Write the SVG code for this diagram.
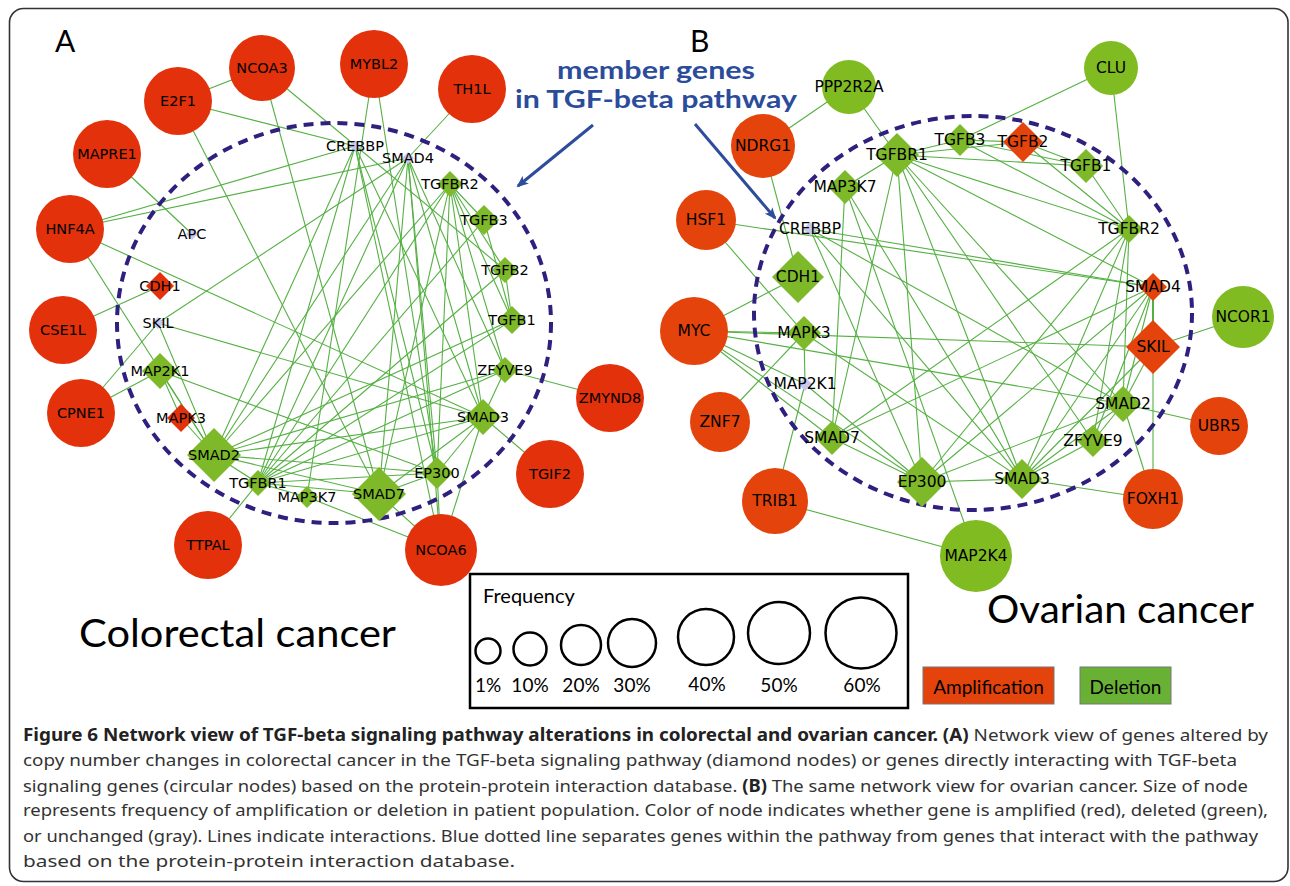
<svg xmlns="http://www.w3.org/2000/svg" width="1290" height="886" viewBox="0 0 1290 886">
<defs>
<style>
.e{stroke:#55b043;stroke-width:1.1;fill:none}
.ra{fill:#e3310b}
.rb{fill:#e4430b}
.g{fill:#7db928}
.gc{fill:#80bb22}
.gy{fill:#c9c9ee}
.l{font-family:"DejaVu Sans",Verdana,sans-serif;font-size:14.5px;text-anchor:middle;dominant-baseline:central;fill:#000}
.lb{font-family:"DejaVu Sans",Verdana,sans-serif;font-size:15.5px;text-anchor:middle;dominant-baseline:central;fill:#000}
.dash{fill:none;stroke:#2f1f7f;stroke-width:4;stroke-dasharray:10 7}
.gs{font-family:Lato,"Open Sans",sans-serif;fill:#000}
.cap{font-family:"Noto Sans","Open Sans",sans-serif;font-size:17px;fill:#333}
.bd{font-weight:bold;fill:#222}
.lc{fill:none;stroke:#000;stroke-width:2.5}
.blue{stroke:#2d4c9c;stroke-width:3;fill:none}
</style>
<marker id="ah" markerWidth="12" markerHeight="10" refX="10" refY="5" orient="auto" markerUnits="userSpaceOnUse">
<path d="M0,0 L12,5 L0,10 L3,5 Z" fill="#2d4c9c"/>
</marker>
</defs>
<rect x="0" y="0" width="1290" height="886" fill="#fff"/>
<rect x="9.5" y="8.5" width="1278.5" height="873" rx="14" fill="none" stroke="#333" stroke-width="1.6"/>

<g id="connectors">
<!-- Panel A -->
<line class="e" x1="178" y1="101" x2="262" y2="68"/>
<line class="e" x1="178" y1="101" x2="355" y2="146"/>
<line class="e" x1="178" y1="101" x2="379" y2="494"/>
<line class="e" x1="262" y1="68" x2="379" y2="494"/>
<line class="e" x1="262" y1="68" x2="505" y2="270"/>
<line class="e" x1="374" y1="64" x2="307" y2="497"/>
<line class="e" x1="374" y1="64" x2="437" y2="473"/>
<line class="e" x1="472" y1="89" x2="408" y2="158"/>
<line class="e" x1="107" y1="154" x2="192" y2="234"/>
<line class="e" x1="70" y1="229" x2="355" y2="146"/>
<line class="e" x1="70" y1="229" x2="408" y2="158"/>
<line class="e" x1="70" y1="229" x2="483" y2="417"/>
<line class="e" x1="70" y1="229" x2="214" y2="455"/>
<line class="e" x1="63" y1="330" x2="160" y2="286"/>
<line class="e" x1="81" y1="413" x2="158" y2="323"/>
<line class="e" x1="81" y1="413" x2="160" y2="371"/>
<line class="e" x1="208" y1="545" x2="258" y2="483"/>
<line class="e" x1="441" y1="550" x2="437" y2="473"/>
<line class="e" x1="441" y1="550" x2="483" y2="417"/>
<line class="e" x1="441" y1="550" x2="379" y2="494"/>
<line class="e" x1="441" y1="550" x2="307" y2="497"/>
<line class="e" x1="441" y1="550" x2="355" y2="146"/>
<line class="e" x1="441" y1="550" x2="408" y2="158"/>
<line class="e" x1="550" y1="474" x2="483" y2="417"/>
<line class="e" x1="610" y1="398" x2="505" y2="370"/>
<line class="e" x1="450" y1="184" x2="484" y2="220"/>
<line class="e" x1="450" y1="184" x2="505" y2="270"/>
<line class="e" x1="450" y1="184" x2="512" y2="320"/>
<line class="e" x1="484" y1="220" x2="512" y2="320"/>
<line class="e" x1="505" y1="270" x2="512" y2="320"/>
<line class="e" x1="450" y1="184" x2="214" y2="455"/>
<line class="e" x1="450" y1="184" x2="483" y2="417"/>
<line class="e" x1="450" y1="184" x2="379" y2="494"/>
<line class="e" x1="450" y1="184" x2="505" y2="370"/>
<line class="e" x1="450" y1="184" x2="258" y2="483"/>
<line class="e" x1="450" y1="184" x2="437" y2="473"/>
<line class="e" x1="258" y1="483" x2="484" y2="220"/>
<line class="e" x1="258" y1="483" x2="505" y2="270"/>
<line class="e" x1="258" y1="483" x2="512" y2="320"/>
<line class="e" x1="258" y1="483" x2="505" y2="370"/>
<line class="e" x1="258" y1="483" x2="483" y2="417"/>
<line class="e" x1="258" y1="483" x2="214" y2="455"/>
<line class="e" x1="258" y1="483" x2="379" y2="494"/>
<line class="e" x1="258" y1="483" x2="307" y2="497"/>
<line class="e" x1="258" y1="483" x2="408" y2="158"/>
<line class="e" x1="258" y1="483" x2="437" y2="473"/>
<line class="e" x1="258" y1="483" x2="355" y2="146"/>
<line class="e" x1="408" y1="158" x2="214" y2="455"/>
<line class="e" x1="408" y1="158" x2="483" y2="417"/>
<line class="e" x1="408" y1="158" x2="379" y2="494"/>
<line class="e" x1="408" y1="158" x2="437" y2="473"/>
<line class="e" x1="408" y1="158" x2="158" y2="323"/>
<line class="e" x1="408" y1="158" x2="505" y2="370"/>
<line class="e" x1="355" y1="146" x2="214" y2="455"/>
<line class="e" x1="355" y1="146" x2="483" y2="417"/>
<line class="e" x1="355" y1="146" x2="437" y2="473"/>
<line class="e" x1="214" y1="455" x2="483" y2="417"/>
<line class="e" x1="214" y1="455" x2="437" y2="473"/>
<line class="e" x1="214" y1="455" x2="505" y2="370"/>
<line class="e" x1="214" y1="455" x2="158" y2="323"/>
<line class="e" x1="214" y1="455" x2="181" y2="418"/>
<line class="e" x1="214" y1="455" x2="160" y2="371"/>
<line class="e" x1="214" y1="455" x2="379" y2="494"/>
<line class="e" x1="214" y1="455" x2="512" y2="320"/>
<line class="e" x1="483" y1="417" x2="437" y2="473"/>
<line class="e" x1="483" y1="417" x2="505" y2="370"/>
<line class="e" x1="483" y1="417" x2="158" y2="323"/>
<line class="e" x1="483" y1="417" x2="379" y2="494"/>
<line class="e" x1="160" y1="371" x2="181" y2="418"/>
<line class="e" x1="379" y1="494" x2="437" y2="473"/>
<line class="e" x1="160" y1="371" x2="437" y2="473"/>
<!-- Panel B -->
<line class="e" x1="849" y1="87" x2="763" y2="146"/>
<line class="e" x1="849" y1="87" x2="897" y2="155"/>
<line class="e" x1="1111" y1="68" x2="960" y2="140"/>
<line class="e" x1="1111" y1="68" x2="1129" y2="229"/>
<line class="e" x1="763" y1="146" x2="798" y2="277"/>
<line class="e" x1="706" y1="220" x2="1153" y2="287"/>
<line class="e" x1="706" y1="220" x2="804" y2="333"/>
<line class="e" x1="694" y1="331" x2="798" y2="277"/>
<line class="e" x1="694" y1="331" x2="804" y2="333"/>
<line class="e" x1="694" y1="331" x2="805" y2="384"/>
<line class="e" x1="694" y1="331" x2="832" y2="438"/>
<line class="e" x1="694" y1="331" x2="922" y2="482"/>
<line class="e" x1="694" y1="331" x2="1123" y2="404"/>
<line class="e" x1="694" y1="331" x2="1153" y2="347"/>
<line class="e" x1="720" y1="422" x2="804" y2="333"/>
<line class="e" x1="775" y1="501" x2="805" y2="384"/>
<line class="e" x1="775" y1="501" x2="976" y2="556"/>
<line class="e" x1="976" y1="556" x2="845" y2="187"/>
<line class="e" x1="1243" y1="317" x2="1153" y2="347"/>
<line class="e" x1="1219" y1="426" x2="1123" y2="404"/>
<line class="e" x1="1153" y1="499" x2="1022" y2="479"/>
<line class="e" x1="1153" y1="499" x2="1153" y2="347"/>
<line class="e" x1="1153" y1="499" x2="1123" y2="404"/>
<line class="e" x1="1153" y1="287" x2="1153" y2="347" style="stroke-width:2"/>
<line class="e" x1="897" y1="155" x2="960" y2="140"/>
<line class="e" x1="897" y1="155" x2="1023" y2="142"/>
<line class="e" x1="897" y1="155" x2="1086" y2="166"/>
<line class="e" x1="897" y1="155" x2="1129" y2="229"/>
<line class="e" x1="897" y1="155" x2="845" y2="187"/>
<line class="e" x1="897" y1="155" x2="1123" y2="404"/>
<line class="e" x1="897" y1="155" x2="1022" y2="479"/>
<line class="e" x1="897" y1="155" x2="832" y2="438"/>
<line class="e" x1="897" y1="155" x2="1093" y2="441"/>
<line class="e" x1="897" y1="155" x2="1153" y2="287"/>
<line class="e" x1="897" y1="155" x2="922" y2="482"/>
<line class="e" x1="960" y1="140" x2="1023" y2="142"/>
<line class="e" x1="960" y1="140" x2="1086" y2="166"/>
<line class="e" x1="960" y1="140" x2="1129" y2="229"/>
<line class="e" x1="1023" y1="142" x2="1086" y2="166"/>
<line class="e" x1="1023" y1="142" x2="1129" y2="229"/>
<line class="e" x1="1086" y1="166" x2="1129" y2="229"/>
<line class="e" x1="1129" y1="229" x2="1123" y2="404"/>
<line class="e" x1="1129" y1="229" x2="1022" y2="479"/>
<line class="e" x1="1129" y1="229" x2="1093" y2="441"/>
<line class="e" x1="1129" y1="229" x2="832" y2="438"/>
<line class="e" x1="1129" y1="229" x2="922" y2="482"/>
<line class="e" x1="845" y1="187" x2="832" y2="438"/>
<line class="e" x1="845" y1="187" x2="1022" y2="479"/>
<line class="e" x1="810" y1="229" x2="1123" y2="404"/>
<line class="e" x1="810" y1="229" x2="1022" y2="479"/>
<line class="e" x1="810" y1="229" x2="922" y2="482"/>
<line class="e" x1="810" y1="229" x2="1153" y2="287"/>
<line class="e" x1="1153" y1="287" x2="1123" y2="404"/>
<line class="e" x1="1153" y1="287" x2="1022" y2="479"/>
<line class="e" x1="1153" y1="287" x2="922" y2="482"/>
<line class="e" x1="1153" y1="287" x2="832" y2="438"/>
<line class="e" x1="1153" y1="287" x2="1093" y2="441"/>
<line class="e" x1="1123" y1="404" x2="1022" y2="479"/>
<line class="e" x1="1123" y1="404" x2="1093" y2="441"/>
<line class="e" x1="1123" y1="404" x2="1153" y2="347"/>
<line class="e" x1="1123" y1="404" x2="922" y2="482"/>
<line class="e" x1="1022" y1="479" x2="1093" y2="441"/>
<line class="e" x1="1022" y1="479" x2="1153" y2="347"/>
<line class="e" x1="1022" y1="479" x2="922" y2="482"/>
<line class="e" x1="832" y1="438" x2="922" y2="482"/>
<line class="e" x1="804" y1="333" x2="805" y2="384"/>
<line class="e" x1="805" y1="384" x2="922" y2="482"/>
<line class="e" x1="804" y1="333" x2="1022" y2="479"/>
</g>

<ellipse class="dash" cx="334" cy="323" rx="217" ry="200"/>
<ellipse class="dash" cx="973" cy="313" rx="219" ry="197"/>

<!-- Panel A nodes -->
<g id="a-NCOA3"><circle class="ra" cx="262" cy="68" r="33"/><text class="l" x="262" y="68">NCOA3</text></g>
<g id="a-E2F1"><circle class="ra" cx="178" cy="101" r="34"/><text class="l" x="178" y="101">E2F1</text></g>
<g id="a-MYBL2"><circle class="ra" cx="374" cy="64" r="34"/><text class="l" x="374" y="64">MYBL2</text></g>
<g id="a-TH1L"><circle class="ra" cx="472" cy="89" r="34"/><text class="l" x="472" y="89">TH1L</text></g>
<g id="a-MAPRE1"><circle class="ra" cx="107" cy="154" r="34"/><text class="l" x="107" y="154">MAPRE1</text></g>
<g id="a-HNF4A"><circle class="ra" cx="70" cy="229" r="34"/><text class="l" x="70" y="229">HNF4A</text></g>
<g id="a-CSE1L"><circle class="ra" cx="63" cy="330" r="34"/><text class="l" x="63" y="330">CSE1L</text></g>
<g id="a-CPNE1"><circle class="ra" cx="81" cy="413" r="34"/><text class="l" x="81" y="413">CPNE1</text></g>
<g id="a-TTPAL"><circle class="ra" cx="208" cy="545" r="34"/><text class="l" x="208" y="545">TTPAL</text></g>
<g id="a-NCOA6"><circle class="ra" cx="441" cy="550" r="36"/><text class="l" x="441" y="550">NCOA6</text></g>
<g id="a-TGIF2"><circle class="ra" cx="550" cy="474" r="34"/><text class="l" x="550" y="474">TGIF2</text></g>
<g id="a-ZMYND8"><circle class="ra" cx="610" cy="398" r="34"/><text class="l" x="610" y="398">ZMYND8</text></g>

<g id="a-CREBBP"><path class="gy" d="M355,140 L361,146 L355,152 L349,146 Z"/><text class="l" x="355" y="146">CREBBP</text></g>
<g id="a-SMAD4"><path class="gy" d="M408,152 L414,158 L408,164 L402,158 Z"/><text class="l" x="408" y="158">SMAD4</text></g>
<g id="a-APC"><path class="gy" d="M192,228 L198,234 L192,240 L186,234 Z"/><text class="l" x="192" y="234">APC</text></g>
<g id="a-TGFBR2"><path class="g" d="M450,171 L463,184 L450,197 L437,184 Z"/><text class="l" x="450" y="184">TGFBR2</text></g>
<g id="a-TGFB3"><path class="g" d="M484,205 L499,220 L484,235 L469,220 Z"/><text class="l" x="484" y="220">TGFB3</text></g>
<g id="a-TGFB2"><path class="g" d="M505,257 L518,270 L505,283 L492,270 Z"/><text class="l" x="505" y="270">TGFB2</text></g>
<g id="a-TGFB1"><path class="g" d="M512,306 L526,320 L512,334 L498,320 Z"/><text class="l" x="512" y="320">TGFB1</text></g>
<g id="a-ZFYVE9"><path class="g" d="M505,357 L518,370 L505,383 L492,370 Z"/><text class="l" x="505" y="370">ZFYVE9</text></g>
<g id="a-SMAD3"><path class="g" d="M483,399 L501,417 L483,435 L465,417 Z"/><text class="l" x="483" y="417">SMAD3</text></g>
<g id="a-EP300"><path class="g" d="M437,457 L453,473 L437,489 L421,473 Z"/><text class="l" x="437" y="473">EP300</text></g>
<g id="a-SMAD7"><path class="g" d="M379,467 L406,494 L379,521 L352,494 Z"/><text class="l" x="379" y="494">SMAD7</text></g>
<g id="a-MAP3K7"><path class="g" d="M307,486 L318,497 L307,508 L296,497 Z"/><text class="l" x="307" y="497">MAP3K7</text></g>
<g id="a-TGFBR1"><path class="g" d="M258,470 L271,483 L258,496 L245,483 Z"/><text class="l" x="258" y="483">TGFBR1</text></g>
<g id="a-SMAD2"><path class="g" d="M214,428 L241,455 L214,482 L187,455 Z"/><text class="l" x="214" y="455">SMAD2</text></g>
<g id="a-MAPK3"><path class="ra" d="M181,404 L195,418 L181,432 L167,418 Z"/><text class="l" x="181" y="418">MAPK3</text></g>
<g id="a-MAP2K1"><path class="g" d="M160,353 L178,371 L160,389 L142,371 Z"/><text class="l" x="160" y="371">MAP2K1</text></g>
<g id="a-SKIL"><path class="gy" d="M158,317 L164,323 L158,329 L152,323 Z"/><text class="l" x="158" y="323">SKIL</text></g>
<g id="a-CDH1"><path class="ra" d="M160,272 L174,286 L160,300 L146,286 Z"/><text class="l" x="160" y="286">CDH1</text></g>

<!-- Panel B nodes -->
<g id="b-PPP2R2A"><circle class="gc" cx="849" cy="87" r="27"/><text class="lb" x="849" y="87">PPP2R2A</text></g>
<g id="b-CLU"><circle class="gc" cx="1111" cy="68" r="27"/><text class="lb" x="1111" y="68">CLU</text></g>
<g id="b-NDRG1"><circle class="rb" cx="763" cy="146" r="32"/><text class="lb" x="763" y="146">NDRG1</text></g>
<g id="b-HSF1"><circle class="rb" cx="706" cy="220" r="30"/><text class="lb" x="706" y="220">HSF1</text></g>
<g id="b-MYC"><circle class="rb" cx="694" cy="331" r="34"/><text class="lb" x="694" y="331">MYC</text></g>
<g id="b-ZNF7"><circle class="rb" cx="720" cy="422" r="30"/><text class="lb" x="720" y="422">ZNF7</text></g>
<g id="b-TRIB1"><circle class="rb" cx="775" cy="501" r="33"/><text class="lb" x="775" y="501">TRIB1</text></g>
<g id="b-MAP2K4"><circle class="gc" cx="976" cy="556" r="36"/><text class="lb" x="976" y="556">MAP2K4</text></g>
<g id="b-NCOR1"><circle class="gc" cx="1243" cy="317" r="31"/><text class="lb" x="1243" y="317">NCOR1</text></g>
<g id="b-UBR5"><circle class="rb" cx="1219" cy="426" r="29"/><text class="lb" x="1219" y="426">UBR5</text></g>
<g id="b-FOXH1"><circle class="rb" cx="1153" cy="499" r="30"/><text class="lb" x="1153" y="499">FOXH1</text></g>

<g id="b-TGFBR1"><path class="g" d="M897,133 L919,155 L897,177 L875,155 Z"/><text class="lb" x="897" y="155">TGFBR1</text></g>
<g id="b-TGFB3"><path class="g" d="M960,124 L976,140 L960,156 L944,140 Z"/><text class="lb" x="960" y="140">TGFB3</text></g>
<g id="b-TGFB2"><path class="rb" d="M1023,122 L1043,142 L1023,162 L1003,142 Z"/><text class="lb" x="1023" y="142">TGFB2</text></g>
<g id="b-TGFB1"><path class="g" d="M1086,149 L1103,166 L1086,183 L1069,166 Z"/><text class="lb" x="1086" y="166">TGFB1</text></g>
<g id="b-TGFBR2"><path class="g" d="M1129,215 L1143,229 L1129,243 L1115,229 Z"/><text class="lb" x="1129" y="229">TGFBR2</text></g>
<g id="b-MAP3K7"><path class="g" d="M845,170 L862,187 L845,204 L828,187 Z"/><text class="lb" x="845" y="187">MAP3K7</text></g>
<g id="b-CREBBP"><path class="gy" d="M810,222 L817,229 L810,236 L803,229 Z"/><text class="lb" x="810" y="229">CREBBP</text></g>
<g id="b-CDH1"><path class="g" d="M798,251 L824,277 L798,303 L772,277 Z"/><text class="lb" x="798" y="277">CDH1</text></g>
<g id="b-MAPK3"><path class="g" d="M804,316 L821,333 L804,350 L787,333 Z"/><text class="lb" x="804" y="333">MAPK3</text></g>
<g id="b-MAP2K1"><path class="gy" d="M805,377 L812,384 L805,391 L798,384 Z"/><text class="lb" x="805" y="384">MAP2K1</text></g>
<g id="b-SMAD7"><path class="g" d="M832,421 L849,438 L832,455 L815,438 Z"/><text class="lb" x="832" y="438">SMAD7</text></g>
<g id="b-EP300"><path class="g" d="M922,457 L947,482 L922,507 L897,482 Z"/><text class="lb" x="922" y="482">EP300</text></g>
<g id="b-SMAD3"><path class="g" d="M1022,459 L1042,479 L1022,499 L1002,479 Z"/><text class="lb" x="1022" y="479">SMAD3</text></g>
<g id="b-ZFYVE9"><path class="g" d="M1093,425 L1109,441 L1093,457 L1077,441 Z"/><text class="lb" x="1093" y="441">ZFYVE9</text></g>
<g id="b-SMAD2"><path class="g" d="M1123,386 L1141,404 L1123,422 L1105,404 Z"/><text class="lb" x="1123" y="404">SMAD2</text></g>
<g id="b-SKIL"><path class="rb" d="M1153,320 L1180,347 L1153,374 L1126,347 Z"/><text class="lb" x="1153" y="347">SKIL</text></g>
<g id="b-SMAD4"><path class="rb" d="M1153,273 L1167,287 L1153,301 L1139,287 Z"/><text class="lb" x="1153" y="287">SMAD4</text></g>

<!-- annotations -->
<text class="gs" x="55" y="52" font-size="30">A</text>
<text class="gs" x="690" y="52" font-size="30">B</text>
<text x="656" y="79" font-family="Lato,sans-serif" font-weight="bold" font-size="24" fill="#2b4c9b" text-anchor="middle" textLength="198" lengthAdjust="spacingAndGlyphs">member genes</text>
<text x="656" y="108" font-family="Lato,sans-serif" font-weight="bold" font-size="24" fill="#2b4c9b" text-anchor="middle" textLength="282" lengthAdjust="spacingAndGlyphs">in TGF-beta pathway</text>
<line class="blue" x1="593" y1="125" x2="518" y2="186" marker-end="url(#ah)"/>
<line class="blue" x1="695" y1="124" x2="775" y2="218" marker-end="url(#ah)"/>
<text class="gs" x="79" y="647" font-size="38" textLength="317" lengthAdjust="spacingAndGlyphs">Colorectal cancer</text>
<text class="gs" x="987" y="623" font-size="38" textLength="267" lengthAdjust="spacingAndGlyphs">Ovarian cancer</text>

<g id="legend">
<rect x="470" y="574" width="438" height="134" fill="none" stroke="#000" stroke-width="2.5"/>
<text class="gs" x="483" y="603" font-size="20">Frequency</text>
<circle class="lc" cx="488" cy="651" r="12.5"/>
<circle class="lc" cx="530" cy="649" r="16.5"/>
<circle class="lc" cx="581" cy="645" r="20"/>
<circle class="lc" cx="632" cy="643" r="24"/>
<circle class="lc" cx="706" cy="637" r="28"/>
<circle class="lc" cx="779" cy="633" r="31"/>
<circle class="lc" cx="861" cy="633" r="35.5"/>
<g class="gs" font-size="19" text-anchor="middle">
<text x="488" y="692">1%</text><text x="530" y="692">10%</text><text x="581" y="692">20%</text><text x="632" y="692">30%</text><text x="707" y="691">40%</text><text x="779" y="692">50%</text><text x="862" y="692">60%</text>
</g>
<rect x="923" y="667" width="131" height="37" fill="#e4430b" stroke="#777" stroke-width="1"/>
<text class="gs" x="988.5" y="694" font-size="19" text-anchor="middle">Amplification</text>
<rect x="1080" y="667" width="91" height="37" fill="#69b134" stroke="#777" stroke-width="1"/>
<text class="gs" x="1125.5" y="694" font-size="19" text-anchor="middle">Deletion</text>
</g>

<g id="caption">
<text class="cap" x="23" y="741" textLength="1245" lengthAdjust="spacingAndGlyphs"><tspan class="bd">Figure 6 Network view of TGF-beta signaling pathway alterations in colorectal and ovarian cancer. (A)</tspan> Network view of genes altered by</text>
<text class="cap" x="23" y="766" textLength="1214" lengthAdjust="spacingAndGlyphs">copy number changes in colorectal cancer in the TGF-beta signaling pathway (diamond nodes) or genes directly interacting with TGF-beta</text>
<text class="cap" x="23" y="792" textLength="1225" lengthAdjust="spacingAndGlyphs">signaling genes (circular nodes) based on the protein-protein interaction database. <tspan class="bd">(B)</tspan> The same network view for ovarian cancer. Size of node</text>
<text class="cap" x="23" y="816" textLength="1245" lengthAdjust="spacingAndGlyphs">represents frequency of amplification or deletion in patient population. Color of node indicates whether gene is amplified (red), deleted (green),</text>
<text class="cap" x="23" y="842" textLength="1235" lengthAdjust="spacingAndGlyphs">or unchanged (gray). Lines indicate interactions. Blue dotted line separates genes within the pathway from genes that interact with the pathway</text>
<text class="cap" x="23" y="867" textLength="492" lengthAdjust="spacingAndGlyphs">based on the protein-protein interaction database.</text>
</g>
</svg>
